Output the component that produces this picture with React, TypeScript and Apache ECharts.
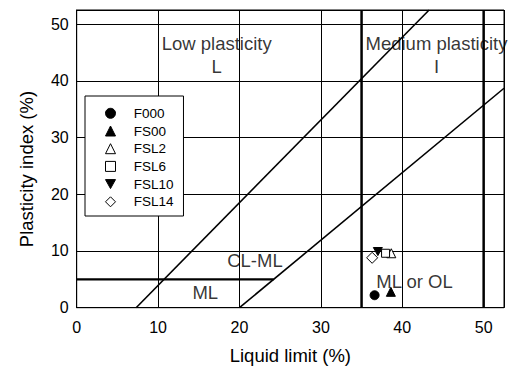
import React, { useEffect, useRef } from "react";
import * as echarts from "echarts";

// Sample series
const seriesNames = ["F000", "FS00", "FSL2", "FSL6", "FSL10", "FSL14"];
const liquidLimit = [36.6, 38.6, 38.65, 37.95, 37.0, 36.3];
const plasticityIndex = [2.2, 2.8, 9.6, 9.6, 9.9, 8.8];
const symbols = ["circle", "triangle", "triangle", "rect", "path://M0,0L10,0L5,9Z", "diamond"];
const filled = [true, true, false, false, true, false];
const symbolSizes = [9, 9, 9, 8, 9, 11];

// Boundary lines of the plasticity chart
const upperLine = [[7.3, 0], [43.3, 52.5]];
const lowerLine = [[20, 0], [52.5, 38.7]];
const clmlLine = [[0, 5], [24.2, 5]];
const llBounds = [35, 50];

// Zone labels
const zoneTexts = ["Low plasticity\nL", "Medium plasticity\nI", "CL-ML", "ML", "ML or OL"];
const zoneX = [17.2, 44.2, 21.9, 15.8, 41.5];
const zoneY = [44.6, 44.6, 8.4, 2.6, 4.7];

// Axes
const axisMax = 52.5;
const axisStep = 10;

const FONT = "Liberation Sans, Arial, Helvetica, sans-serif";

export default function App() {
  const ref = useRef<HTMLDivElement>(null);
  useEffect(() => {
    if (!ref.current) return;
    const chart = echarts.init(ref.current, null, { renderer: "svg" });

    const scatterSeries = seriesNames.map((name, i) => ({
      name,
      type: "scatter",
      symbol: symbols[i],
      symbolSize: symbolSizes[i],
      symbolKeepAspect: true,
      itemStyle: {
        color: filled[i] ? "#000" : "#fff",
        borderColor: "#000",
        borderWidth: 1,
        opacity: 1,
      },
      data: [[liquidLimit[i], plasticityIndex[i]]],
      z: 5,
    }));

    const lineSeries = (data: number[][], width: number) => ({
      type: "line",
      data,
      showSymbol: false,
      symbol: "none",
      silent: true,
      lineStyle: { color: "#000", width },
      z: 3,
    });

    chart.setOption({
      animation: false,
      backgroundColor: "#fff",
      grid: {
        left: 76.7,
        right: 9,
        top: 10,
        bottom: 62.3,
        show: true,
        borderColor: "#000",
        borderWidth: 1,
        outerBoundsMode: "none",
      },
      xAxis: {
        type: "value",
        min: 0,
        max: axisMax,
        interval: axisStep,
        axisLine: { lineStyle: { color: "#000", width: 1 } },
        axisTick: { show: false },
        splitLine: { show: true, lineStyle: { color: "#000", width: 1 } },
        axisLabel: {
          color: "#000",
          fontSize: 16,
          fontFamily: FONT,
          margin: 12,
          showMaxLabel: false,
          formatter: (v: number) => (v % axisStep === 0 ? String(v) : ""),
        },
        name: "Liquid limit (%)",
        nameLocation: "middle",
        nameGap: 38,
        nameTextStyle: { color: "#000", fontSize: 18.5, fontFamily: FONT },
      },
      yAxis: {
        type: "value",
        min: 0,
        max: axisMax,
        interval: axisStep,
        axisLine: { show: true, lineStyle: { color: "#000", width: 1 } },
        axisTick: { show: false },
        splitLine: { show: true, lineStyle: { color: "#000", width: 1 } },
        axisLabel: {
          color: "#000",
          fontSize: 16,
          fontFamily: FONT,
          margin: 8,
          showMaxLabel: false,
          formatter: (v: number) => (v % axisStep === 0 ? String(v) : ""),
        },
      },
      graphic: [
        {
          type: "text",
          x: 26.5,
          y: 169,
          rotation: Math.PI / 2,
          style: {
            text: "Plasticity index (%)",
            fill: "#000",
            font: `18.5px ${FONT}`,
            align: "center",
            verticalAlign: "middle",
          },
        },
      ],
      legend: {
        data: seriesNames,
        orient: "vertical",
        left: 85,
        top: 96,
        padding: [10.3, 9.9, 7.2, 20],
        itemWidth: 10,
        itemHeight: 10,
        itemGap: 3.7,
        symbolKeepAspect: true,
        backgroundColor: "#fff",
        borderColor: "#000",
        borderWidth: 1,
        borderRadius: 0,
        itemStyle: { borderWidth: 1 },
        textStyle: {
          color: "#000",
          fontSize: 13.5,
          lineHeight: 14,
          fontFamily: FONT,
          padding: [0, 0, 0, 13.3],
        },
        selectedMode: false,
        z: 10,
      },
      series: [
        lineSeries(upperLine, 1.6),
        lineSeries(lowerLine, 1.6),
        lineSeries(clmlLine, 2.2),
        ...llBounds.map((x) => lineSeries([[x, 0], [x, axisMax]], 2.5)),
        {
          type: "scatter",
          silent: true,
          symbolSize: 0,
          z: 4,
          data: zoneTexts.map((t, i) => ({ name: t, value: [zoneX[i], zoneY[i]] })),
          label: {
            show: true,
            position: "inside",
            formatter: (p: any) => p.name,
            color: "#000",
            fontSize: 18.5,
            lineHeight: 23,
            fontFamily: FONT,
            align: "center",
            verticalAlign: "middle",
          },
        },
        ...scatterSeries,
      ],
    });
    return () => chart.dispose();
  }, []);
  return (
    <div
      ref={ref}
      style={{ position: "absolute", left: 0, top: 0, width: 513, height: 370 }}
    />
  );
}
